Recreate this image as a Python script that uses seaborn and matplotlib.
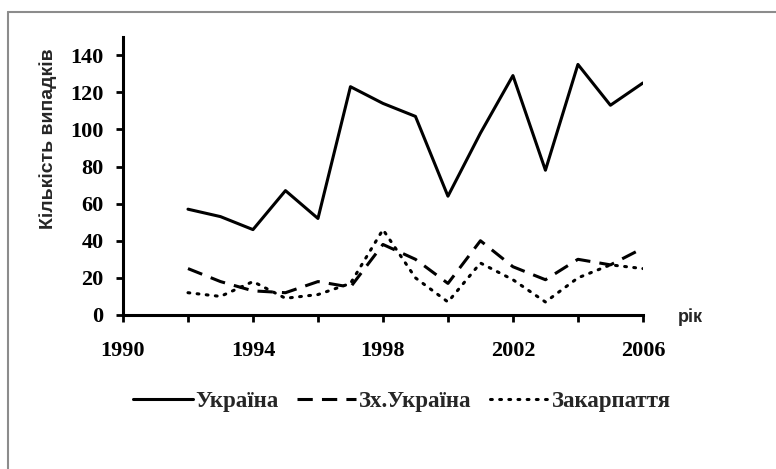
import numpy as np
import pandas as pd
import matplotlib
matplotlib.use("Agg")
import matplotlib.pyplot as plt
from matplotlib.lines import Line2D
import seaborn as sns

# ----------------------------- data -----------------------------#
years = [1992, 1993, 1994, 1995, 1996, 1997, 1998, 1999,
         2000, 2001, 2002, 2003, 2004, 2005, 2006]
ukraina = [57, 53, 46, 67, 52, 123, 114, 107, 64, 98, 129, 78, 135, 113, 125]
zakh_ukraina = [25, 18, 13, 12, 18, 15, 38, 30, 17, 40, 26, 19, 30, 27, 36]
zakarpattia = [12, 10, 18, 9, 11, 17, 46, 20, 7, 28, 19, 7, 20, 27, 25]

series_names = ["Україна", "Зх.Україна", "Закарпаття"]
x_ticks = [1990, 1992, 1994, 1996, 1998, 2000, 2002, 2004, 2006]
x_ticklabels = ["1990", "", "1994", "", "1998", "", "2002", "", "2006"]
y_ticks = [0, 20, 40, 60, 80, 100, 120, 140]

df = pd.DataFrame({"year": years,
                   series_names[0]: ukraina,
                   series_names[1]: zakh_ukraina,
                   series_names[2]: zakarpattia})
long_df = df.melt(id_vars="year", var_name="region", value_name="cases")

# ----------------------------- plot -----------------------------#
sns.set_style("ticks")
plt.rcParams["font.family"] = ["Liberation Serif", "DejaVu Serif"]

fig = plt.figure(figsize=(7.76, 4.69), dpi=100)
ax = fig.add_axes([0.1585, 0.3284, 0.67, 0.5936])

styles = {series_names[0]: "-",
          series_names[1]: (0, (5, 3)),
          series_names[2]: (0, (0.6, 2.4))}
caps = {series_names[0]: "butt", series_names[1]: "butt", series_names[2]: "round"}

for name in series_names:
    sub = long_df[long_df["region"] == name]
    sns.lineplot(data=sub, x="year", y="cases", ax=ax, color="black",
                 linewidth=2.2, linestyle=styles[name], label=name,
                 dash_capstyle=caps[name], legend=False)

ax.set_xlim(1990, 2006)
ax.set_ylim(0, 150)
ax.set_xticks(x_ticks)
ax.set_xticklabels(x_ticklabels)
ax.set_yticks(y_ticks)
ax.tick_params(axis="both", direction="out", length=5, width=2,
               labelsize=16, colors="black")
ax.tick_params(axis="y", pad=9)
ax.tick_params(axis="x", pad=14)
for lab in ax.get_xticklabels() + ax.get_yticklabels():
    lab.set_fontweight("bold")

for side in ["top", "right"]:
    ax.spines[side].set_visible(False)
for side in ["left", "bottom"]:
    ax.spines[side].set_linewidth(2.2)
    ax.spines[side].set_color("black")

ax.set_xlabel("")
ax.set_ylabel("Кількість випадків", family=["Liberation Sans", "DejaVu Sans"],
              fontsize=14, fontweight="bold")
ax.yaxis.set_label_coords(-0.127, 0.633)

fig.text(678 / 776, 1 - 317 / 469, "рік", family=["Liberation Sans", "DejaVu Sans"],
         fontsize=13, fontweight="bold", va="center", ha="left")

handles = [Line2D([], [], color="black", linewidth=2.2, linestyle=styles[n],
                  dash_capstyle=caps[n])
           for n in series_names]
fig.legend(handles, series_names, loc="center", bbox_to_anchor=(0.518, 1 - 401 / 469),
           ncol=3, frameon=False, handlelength=2.6, handletextpad=0.1,
           columnspacing=0.8,
           prop={"family": "Liberation Serif", "weight": "bold", "size": 16.5})

# grey frame of the original picture
fig.add_artist(Line2D([8 / 776, 8 / 776], [0, 1 - 12 / 469], color="#8c8c8c",
                      linewidth=1.5, transform=fig.transFigure))
fig.add_artist(Line2D([8 / 776, 1], [1 - 12 / 469, 1 - 12 / 469], color="#8c8c8c",
                      linewidth=1.5, transform=fig.transFigure))

fig.savefig("out.png", dpi=100)
